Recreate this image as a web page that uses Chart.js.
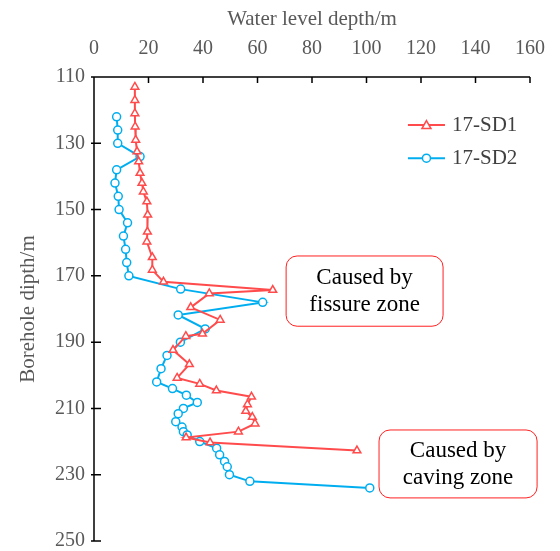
<!DOCTYPE html>
<html>
<head>
<meta charset="utf-8">
<script src="https://cdn.jsdelivr.net/npm/chart.js@4.4.1/dist/chart.umd.min.js"></script>
<style>
  html, body { margin: 0; padding: 0; background: #fff; }
  #wrap { width: 560px; height: 551px; }
</style>
</head>
<body>
<div id="wrap"><canvas id="chart" width="560" height="551"></canvas></div>
<script>
// borehole depth (m) and water level depth (m)
const sd1Depth = [113, 117, 121, 125, 129, 132.5, 135.5, 139, 142, 144.6, 147.6, 151.6, 156.7, 159.7, 164.4, 168.2,
    171.8, 174.3, 175.3, 179.5, 183.3, 187.5, 188.2, 192.4, 196.7, 200.8, 202.6, 204.6, 206.5, 208.8, 210.8,
    212.6, 214.6, 217, 218.8, 220.3, 222.7];
const sd1Level = [15.0, 15.0, 15.0, 15.1, 15.3, 15.8, 16.4, 16.9, 17.6, 18.1, 19.4, 19.7, 19.6, 19.4, 21.4, 21.4,
    25.5, 65.6, 42.3, 35.5, 46.3, 39.8, 33.7, 29, 35, 30.5, 38.8, 44.9, 57.8, 56.3, 55.7,
    58.1, 59.1, 53, 33.8, 42.6, 96.5];

const sd2Depth = [122, 126, 130, 134, 138, 142, 146, 150, 154, 158, 162, 166, 170, 174, 178, 181.8, 186, 190,
    194, 198, 202, 204, 206, 208.2, 210, 211.6, 214, 215.6, 217, 218, 220, 222, 224, 226, 227.6, 230, 232, 234];
const sd2Level = [8.3, 8.7, 8.7, 16.9, 8.3, 7.7, 8.9, 9.2, 12.3, 10.8, 11.6, 12, 12.8, 31.8, 61.9, 30.9, 40.8, 31.7,
    26.8, 24.6, 23, 28.8, 33.9, 37.9, 32.8, 30.9, 30, 32.3, 32.8, 34.2, 38.8, 45, 46.1, 47.9, 48.9, 49.7, 57.2, 101.2];

const seriesNames = ['17-SD1', '17-SD2'];
const seriesColors = ['#FF4B4B', '#00AEEF'];

// annotation boxes: [xMin, xMax, depthMin, depthMax] in data units
const notes = [
    { text: ['Caused by', 'fissure zone'], box: [70.5, 128.1, 164, 185.2] },
    { text: ['Caused by', 'caving zone'], box: [104.6, 162.6, 216.5, 237] }
];

const serif = '"Liberation Serif", "Times New Roman", serif';

function toPoints(xs, ys) {
    return xs.map((x, i) => ({ x: x, y: ys[i] }));
}

// axis lines with inward ticks, legend and text boxes
const decorPlugin = {
    id: 'decor',
    afterDraw(chart) {
        const ctx = chart.ctx;
        const xs = chart.scales.x;
        const ys = chart.scales.y;
        const area = chart.chartArea;
        ctx.save();
        ctx.strokeStyle = '#000';
        ctx.lineWidth = 1.5;
        ctx.beginPath();
        ctx.moveTo(area.left, area.bottom);
        ctx.lineTo(area.left, area.top);
        ctx.lineTo(area.right, area.top);
        xs.ticks.forEach(t => {
            const px = xs.getPixelForValue(t.value);
            ctx.moveTo(px, area.top);
            ctx.lineTo(px, area.top + 6);
        });
        ys.ticks.forEach(t => {
            const py = ys.getPixelForValue(t.value);
            ctx.moveTo(area.left - 3, py);
            ctx.lineTo(area.left + 7, py);
        });
        ctx.stroke();

        // legend
        chart.data.datasets.forEach((ds, i) => {
            const y = ys.getPixelForValue(124.5 + i * 10);
            const x0 = xs.getPixelForValue(115.2);
            const x1 = xs.getPixelForValue(128.8);
            ctx.strokeStyle = ds.borderColor;
            ctx.lineWidth = 2;
            ctx.beginPath();
            ctx.moveTo(x0, y);
            ctx.lineTo(x1, y);
            ctx.stroke();
            ctx.fillStyle = '#fff';
            ctx.lineWidth = 1.5;
            const cx = (x0 + x1) / 2;
            ctx.beginPath();
            if (ds.pointStyle === 'triangle') {
                ctx.moveTo(cx, y - 4.5);
                ctx.lineTo(cx + 4.5, y + 3.5);
                ctx.lineTo(cx - 4.5, y + 3.5);
                ctx.closePath();
            } else {
                ctx.arc(cx, y, 4, 0, Math.PI * 2);
            }
            ctx.fill();
            ctx.stroke();
            ctx.fillStyle = '#404040';
            ctx.font = '21px ' + serif;
            ctx.textAlign = 'left';
            ctx.textBaseline = 'middle';
            ctx.fillText(ds.label, x1 + 7, y);
        });

        // text boxes
        notes.forEach(n => {
            const l = xs.getPixelForValue(n.box[0]);
            const r = xs.getPixelForValue(n.box[1]);
            const t = ys.getPixelForValue(n.box[2]);
            const b = ys.getPixelForValue(n.box[3]);
            ctx.fillStyle = '#fff';
            ctx.strokeStyle = '#FF2020';
            ctx.lineWidth = 1;
            ctx.beginPath();
            ctx.roundRect(l, t, r - l, b - t, 11);
            ctx.fill();
            ctx.stroke();
            ctx.fillStyle = '#000';
            ctx.font = '23px ' + serif;
            ctx.textAlign = 'center';
            ctx.textBaseline = 'middle';
            const cx = (l + r) / 2;
            const cy = (t + b) / 2;
            ctx.fillText(n.text[0], cx, cy - 13);
            ctx.fillText(n.text[1], cx, cy + 14);
        });
        ctx.restore();
    }
};

const ctx = document.getElementById('chart').getContext('2d');
new Chart(ctx, {
    type: 'scatter',
    data: {
        datasets: [
            {
                label: seriesNames[0],
                data: toPoints(sd1Level, sd1Depth),
                showLine: true,
                borderColor: seriesColors[0],
                backgroundColor: '#fff',
                borderWidth: 2,
                pointStyle: 'triangle',
                pointRadius: 4.5,
                pointBorderWidth: 1.5,
                pointBackgroundColor: '#fff',
                pointBorderColor: seriesColors[0]
            },
            {
                label: seriesNames[1],
                data: toPoints(sd2Level, sd2Depth),
                showLine: true,
                borderColor: seriesColors[1],
                backgroundColor: '#fff',
                borderWidth: 2,
                pointStyle: 'circle',
                pointRadius: 4,
                pointBorderWidth: 1.5,
                pointBackgroundColor: '#fff',
                pointBorderColor: seriesColors[1]
            }
        ]
    },
    options: {
        responsive: false,
        animation: false,
        layout: { padding: { right: 30, bottom: 10 } },
        plugins: {
            legend: { display: false },
            tooltip: { enabled: false }
        },
        scales: {
            x: {
                type: 'linear',
                position: 'top',
                min: 0,
                max: 160,
                ticks: { stepSize: 20, color: '#595959', font: { family: serif, size: 20 }, padding: 8 },
                grid: { display: false },
                border: { display: false },
                title: { display: true, text: 'Water level depth/m', color: '#595959', font: { family: serif, size: 21 }, padding: { top: 7, bottom: 0 } },
                afterFit(scale) {
                    scale.height = 77;
                    scale.paddingLeft = 0;
                    scale.paddingRight = 0;
                }
            },
            y: {
                type: 'linear',
                reverse: true,
                min: 110,
                max: 250,
                ticks: { stepSize: 20, color: '#595959', font: { family: serif, size: 20 }, padding: 1 },
                grid: { display: false },
                border: { display: false },
                title: { display: true, text: 'Borehole dipth/m', color: '#595959', font: { family: serif, size: 21 }, padding: { top: 16, bottom: 4 } },
                afterFit(scale) {
                    scale.width = 94;
                    scale.paddingTop = 0;
                    scale.paddingBottom = 0;
                }
            }
        }
    },
    plugins: [decorPlugin]
});
</script>
</body>
</html>
